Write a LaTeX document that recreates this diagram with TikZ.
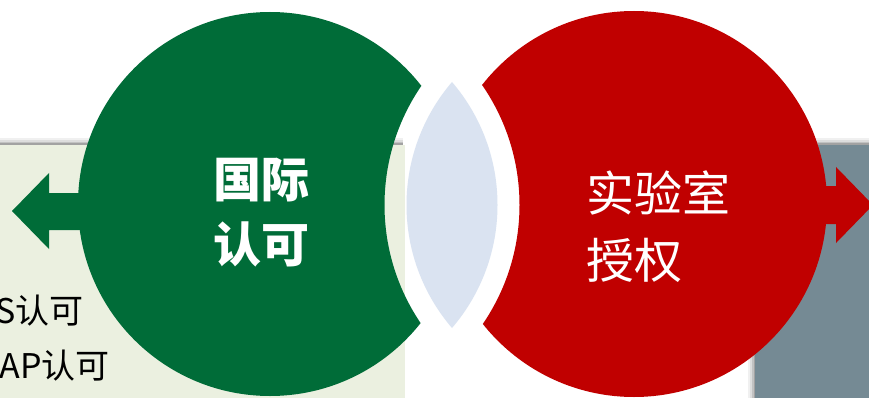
\documentclass[tikz,border=0pt]{standalone}
\usepackage{xcolor}
\usepackage{fontspec}
\newfontfamily\cjk{Noto Sans CJK SC}
\usepackage{tikz}
\usetikzlibrary{calc}
\definecolor{accgreen}{RGB}{0,108,56}
\definecolor{accred}{RGB}{192,0,0}
\definecolor{lensblue}{RGB}{218,227,241}
\definecolor{boxgreen}{RGB}{235,240,224}
\definecolor{boxgrey}{RGB}{117,138,148}
\tikzset{
 bigtext/.style={text=white, inner sep=0pt, font=\cjk\fontsize{48}{67}\selectfont},
 sidetext/.style={text=black, inner sep=0pt, font=\cjk\fontsize{34}{40}\selectfont}
}

\begin{document}
\begin{tikzpicture}[x=1pt, y=-1pt]
 \useasboundingbox (0,0) rectangle (869,398);
 \clip (0,0) rectangle (869,398);

 \coordinate (gc) at (270,204);
 \coordinate (rc) at (634,204);
 \coordinate (lensL) at (308.5,205);
 \coordinate (lensR) at (595.5,205);

 \fill[white] (0,0) rectangle (869,398);

 \foreach \d/\o in {7/0.06, 5/0.08, 3/0.12, 1.5/0.16} {
  \fill[black, opacity=\o] (0,145-\d) rectangle (403,150);
  \fill[black, opacity=\o] (755-\d,145-\d) rectangle (869,398);
 }
 \fill[boxgreen] (0,145) rectangle (405,398);
 \fill[boxgrey] (755,145) rectangle (869,398);

 \node[sidetext, anchor=base east] (cnas) at (84,323) {S认可};
 \node[sidetext, anchor=base east] (cap) at (110,378) {AP认可};

 \fill[accgreen] (100,193) -- (49,193) -- (49,173) -- (12,211) -- (49,249) -- (49,230) -- (100,230) -- cycle;
 \fill[accred] (800,186) -- (836,186) -- (836,167) -- (873,205) -- (836,243) -- (836,224) -- (800,224) -- cycle;

 \begin{scope}[even odd rule]
  \clip (0,0) rectangle (869,398) (lensR) circle (211pt);
  \fill[accgreen] (gc) circle (192pt);
 \end{scope}
 \begin{scope}[even odd rule]
  \clip (0,0) rectangle (869,398) (lensL) circle (211pt);
  \fill[accred] (rc) circle (193pt);
 \end{scope}
 \begin{scope}
  \clip (lensL) circle (189pt);
  \fill[lensblue] (lensR) circle (189pt);
 \end{scope}

 \node[bigtext, align=center, font=\cjk\bfseries\fontsize{48}{65}\selectfont] (intl) at (261,213) {国际\\认可};
 \node[bigtext, align=left, anchor=west] (lab) at (586,227) {实验室\\授权};

\end{tikzpicture}
\end{document}
